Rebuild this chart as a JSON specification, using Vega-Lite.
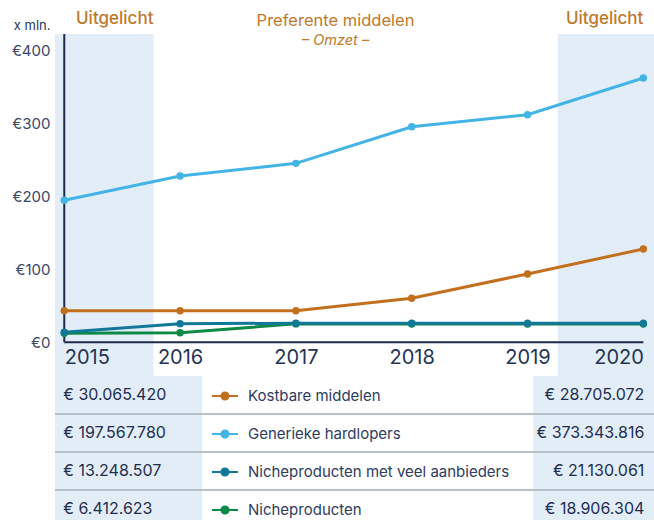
{
  "$schema": "https://vega.github.io/schema/vega-lite/v6.json",
  "autosize": "none",
  "width": 599,
  "height": 486,
  "padding": {"left": 55, "top": 34, "right": 0, "bottom": 0},
  "background": "white",
  "config": {
    "view": {"stroke": null},
    "font": "Inter",
    "axis": {"grid": false}
  },
  "title": {
    "text": "Preferente middelen",
    "subtitle": "– Omzet –",
    "anchor": "middle",
    "frame": "group",
    "dx": -19,
    "offset": -37,
    "color": "#c0782c",
    "subtitleColor": "#c0782c",
    "font": "Inter",
    "subtitleFont": "Inter",
    "fontSize": 16.5,
    "fontWeight": 400,
    "subtitleFontSize": 14.5,
    "subtitleFontStyle": "italic",
    "subtitlePadding": 4
  },
  "datasets": {
    "series": [
      {"year": 2015, "series": "Kostbare middelen", "value": 43.3},
      {"year": 2016, "series": "Kostbare middelen", "value": 43.2},
      {"year": 2017, "series": "Kostbare middelen", "value": 43.2},
      {"year": 2018, "series": "Kostbare middelen", "value": 60.2},
      {"year": 2019, "series": "Kostbare middelen", "value": 93.5},
      {"year": 2020, "series": "Kostbare middelen", "value": 127.7},
      {"year": 2015, "series": "Generieke hardlopers", "value": 194.3},
      {"year": 2016, "series": "Generieke hardlopers", "value": 227.6},
      {"year": 2017, "series": "Generieke hardlopers", "value": 244.9},
      {"year": 2018, "series": "Generieke hardlopers", "value": 295.0},
      {"year": 2019, "series": "Generieke hardlopers", "value": 311.4},
      {"year": 2020, "series": "Generieke hardlopers", "value": 361.7},
      {"year": 2015, "series": "Nicheproducten", "value": 12.3},
      {"year": 2016, "series": "Nicheproducten", "value": 13.1},
      {"year": 2017, "series": "Nicheproducten", "value": 25.2},
      {"year": 2018, "series": "Nicheproducten", "value": 25.0},
      {"year": 2019, "series": "Nicheproducten", "value": 25.0},
      {"year": 2020, "series": "Nicheproducten", "value": 25.0},
      {"year": 2015, "series": "Nicheproducten met veel aanbieders", "value": 13.7},
      {"year": 2016, "series": "Nicheproducten met veel aanbieders", "value": 25.5},
      {"year": 2017, "series": "Nicheproducten met veel aanbieders", "value": 26.1},
      {"year": 2018, "series": "Nicheproducten met veel aanbieders", "value": 26.1},
      {"year": 2019, "series": "Nicheproducten met veel aanbieders", "value": 26.1},
      {"year": 2020, "series": "Nicheproducten met veel aanbieders", "value": 26.1}
    ],
    "bands": [
      {"start": 2014.92, "end": 2015.77, "labelx": 2015.77, "label": "Uitgelicht"},
      {"start": 2019.26, "end": 2020.092, "labelx": 2020.0, "label": "Uitgelicht"}
    ],
    "tableBands": [
      {"series": "Kostbare middelen", "start": 2014.92, "end": 2016.19},
      {"series": "Generieke hardlopers", "start": 2014.92, "end": 2016.19},
      {"series": "Nicheproducten met veel aanbieders", "start": 2014.92, "end": 2016.19},
      {"series": "Nicheproducten", "start": 2014.92, "end": 2016.19},
      {"series": "Kostbare middelen", "start": 2019.05, "end": 2020.092},
      {"series": "Generieke hardlopers", "start": 2019.05, "end": 2020.092},
      {"series": "Nicheproducten met veel aanbieders", "start": 2019.05, "end": 2020.092},
      {"series": "Nicheproducten", "start": 2019.05, "end": 2020.092}
    ],
    "axisLines": [
      {"x": 2015, "x2": 2015, "y": 0, "y2": 421.9},
      {"x": 2015, "x2": 2020, "y": 0, "y2": 0}
    ],
    "table": [
      {"series": "Kostbare middelen", "year": 2015, "amount": "€ 30.065.420"},
      {"series": "Kostbare middelen", "year": 2020, "amount": "€ 28.705.072"},
      {"series": "Generieke hardlopers", "year": 2015, "amount": "€ 197.567.780"},
      {"series": "Generieke hardlopers", "year": 2020, "amount": "€ 373.343.816"},
      {"series": "Nicheproducten met veel aanbieders", "year": 2015, "amount": "€ 13.248.507"},
      {"series": "Nicheproducten met veel aanbieders", "year": 2020, "amount": "€ 21.130.061"},
      {"series": "Nicheproducten", "year": 2015, "amount": "€ 6.412.623"},
      {"series": "Nicheproducten", "year": 2020, "amount": "€ 18.906.304"}
    ]
  },
  "layer": [
    {
      "layer": [
        {
          "data": {"name": "bands"},
          "mark": {"type": "rect", "color": "#e3edf8", "clip": false},
          "encoding": {
            "x": {
              "field": "start", "type": "quantitative",
              "scale": {"domain": [2014.92, 2020.092], "nice": false, "zero": false},
              "axis": {
                "title": null, "values": [2015, 2016, 2017, 2018, 2019, 2020], "format": "d",
                "domain": false, "ticks": false, "grid": false, "offset": -177.7,
                "labelFlush": 12, "labelPadding": 5, "labelFontSize": 20, "labelColor": "#243456",
                "labelFont": "Inter", "zindex": 1
              }
            },
            "x2": {"field": "end"}
          }
        },
        {
          "data": {"name": "axisLines"},
          "mark": {"type": "rule", "color": "#1e2b4d", "strokeWidth": 2},
          "encoding": {
            "x": {"field": "x", "type": "quantitative", "scale": {"domain": [2014.92, 2020.092], "nice": false, "zero": false}},
            "x2": {"field": "x2"},
            "y": {
              "field": "y", "type": "quantitative",
              "scale": {"domain": [-243.2, 421.9], "nice": false, "zero": false},
              "axis": {
                "values": [0, 100, 200, 300, 400], "labelExpr": "'€' + datum.value",
                "domain": false, "ticks": false, "grid": false, "offset": -9, "labelPadding": 14,
                "labelFontSize": 15, "labelColor": "#3b4767", "labelFont": "Inter",
                "title": "x mln.", "titleAngle": 0, "titleAlign": "right", "titleBaseline": "middle",
                "titleX": -14, "titleY": -9, "titleFontSize": 13, "titleFontWeight": "normal",
                "titleColor": "#2b3859", "titleFont": "Inter", "zindex": 1
              }
            },
            "y2": {"field": "y2"}
          }
        },
        {
          "data": {"name": "series"},
          "mark": {"type": "line", "strokeWidth": 3},
          "encoding": {
            "x": {"field": "year", "type": "quantitative", "scale": {"domain": [2014.92, 2020.092], "nice": false, "zero": false}},
            "y": {"field": "value", "type": "quantitative", "scale": {"domain": [-243.2, 421.9], "nice": false, "zero": false}},
            "color": {
              "field": "series", "type": "nominal",
              "scale": {
                "domain": ["Kostbare middelen", "Generieke hardlopers", "Nicheproducten met veel aanbieders", "Nicheproducten"],
                "range": ["#c2701e", "#42b4e6", "#11789a", "#0c8a45"]
              },
              "legend": {
                "orient": "none", "legendX": 160, "legendY": 352, "direction": "vertical",
                "title": null, "padding": 0,
                "symbolType": "M -1.5 0 L 1.5 0 M 0.4 0 A 0.4 0.4 0 1 1 -0.4 0 A 0.4 0.4 0 1 1 0.4 0 Z",
                "symbolSize": 300, "symbolStrokeWidth": 2.2,
                "labelFontSize": 15, "labelColor": "#2e3b5e", "labelFont": "Inter",
                "labelOffset": 13, "rowPadding": 20, "labelLimit": 400,
                "encode": {
                  "symbols": {
                    "update": {
                      "fill": {"scale": "color", "field": "value"},
                      "stroke": {"scale": "color", "field": "value"},
                      "opacity": {"value": 1}
                    }
                  }
                }
              }
            }
          }
        },
        {
          "data": {"name": "series"},
          "mark": {"type": "point", "filled": true, "size": 55, "opacity": 1},
          "encoding": {
            "x": {"field": "year", "type": "quantitative", "scale": {"domain": [2014.92, 2020.092], "nice": false, "zero": false}},
            "y": {"field": "value", "type": "quantitative", "scale": {"domain": [-243.2, 421.9], "nice": false, "zero": false}},
            "color": {"field": "series", "type": "nominal"}
          }
        },
        {
          "data": {"name": "bands"},
          "mark": {"type": "text", "align": "right", "baseline": "middle", "fontSize": 17, "fontWeight": 500, "color": "#c0782c", "font": "Inter", "clip": false},
          "encoding": {
            "x": {"field": "labelx", "type": "quantitative", "scale": {"domain": [2014.92, 2020.092], "nice": false, "zero": false}},
            "y": {"datum": 442, "type": "quantitative", "scale": {"domain": [-243.2, 421.9], "nice": false, "zero": false}},
            "text": {"field": "label"}
          }
        }
      ]
    },
    {
      "layer": [
        {
          "data": {"name": "tableBands"},
          "mark": {"type": "rect", "color": "#e3edf8"},
          "encoding": {
            "x": {"field": "start", "type": "quantitative", "scale": {"domain": [2014.92, 2020.092], "nice": false, "zero": false}},
            "x2": {"field": "end"},
            "y": {
              "field": "series", "type": "nominal", "axis": null,
              "scale": {"type": "band", "domain": ["Kostbare middelen", "Generieke hardlopers", "Nicheproducten met veel aanbieders", "Nicheproducten"], "range": [342, 494], "paddingInner": 0, "paddingOuter": 0}
            }
          }
        },
        {
          "data": {"name": "table"},
          "transform": [{"filter": "datum.year == 2015 && datum.series != 'Kostbare middelen'"}],
          "mark": {"type": "rule", "color": "#b9bfc9", "strokeWidth": 2},
          "encoding": {
            "y": {"field": "series", "type": "nominal", "bandPosition": 0, "axis": null}
          }
        },
        {
          "data": {"name": "table"},
          "transform": [{"filter": "datum.year == 2015"}],
          "mark": {"type": "text", "align": "left", "baseline": "middle", "fontSize": 16, "color": "#1f2d50", "font": "Inter", "dx": -1},
          "encoding": {
            "x": {"field": "year", "type": "quantitative", "scale": {"domain": [2014.92, 2020.092], "nice": false, "zero": false}},
            "y": {"field": "series", "type": "nominal", "axis": null},
            "text": {"field": "amount"}
          }
        },
        {
          "data": {"name": "table"},
          "transform": [{"filter": "datum.year == 2020"}],
          "mark": {"type": "text", "align": "right", "baseline": "middle", "fontSize": 16, "color": "#1f2d50", "font": "Inter", "dx": 1},
          "encoding": {
            "x": {"field": "year", "type": "quantitative", "scale": {"domain": [2014.92, 2020.092], "nice": false, "zero": false}},
            "y": {"field": "series", "type": "nominal", "axis": null},
            "text": {"field": "amount"}
          }
        }
      ]
    }
  ],
  "resolve": {"scale": {"y": "independent"}, "axis": {"y": "independent"}}
}
